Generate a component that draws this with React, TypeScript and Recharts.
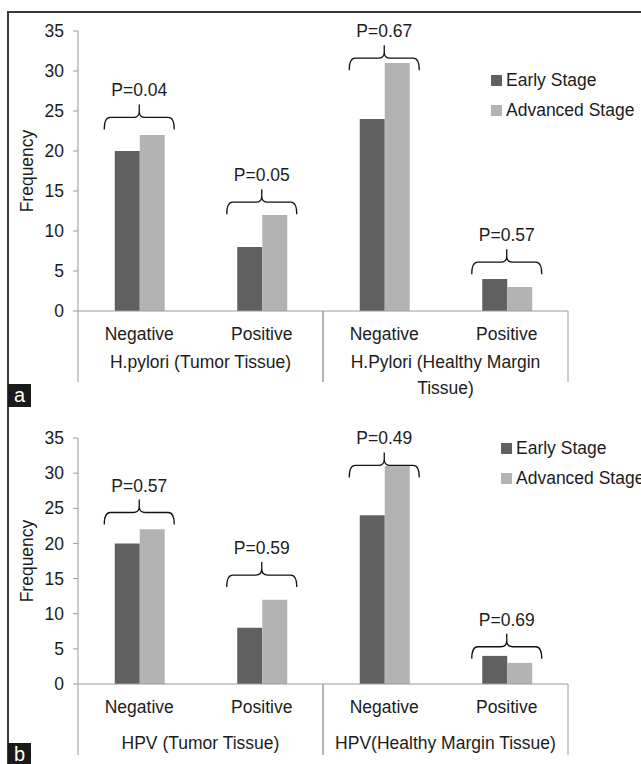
import { ComposedChart, Bar, Line, XAxis, YAxis, Legend } from 'recharts';

// ── values ─────────────────────────────────────────────────────────
const categories = ['Negative', 'Positive', 'Negative', 'Positive'];
const yTicks = [0, 5, 10, 15, 20, 25, 30, 35];
const seriesNames = ['Early Stage', 'Advanced Stage'];

// '\n' marks where the original label wraps
const groupsA = ['H.pylori (Tumor Tissue)', 'H.Pylori (Healthy Margin\nTissue)'];
const earlyA = [20, 8, 24, 4];
const advancedA = [22, 12, 31, 3];
const pValuesA = ['P=0.04', 'P=0.05', 'P=0.67', 'P=0.57'];
const bracketLevelA = [24.2, 13.6, 31.6, 6.1];

const groupsB = ['HPV (Tumor Tissue)', 'HPV(Healthy Margin Tissue)'];
const earlyB = [20, 8, 24, 4];
const advancedB = [22, 12, 31, 3];
const pValuesB = ['P=0.57', 'P=0.59', 'P=0.49', 'P=0.69'];
const bracketLevelB = [24.4, 15.5, 31.1, 5.3];

// ── styling ─────────────────────────────────────────────────────────
const DARK = '#606060';
const LIGHT = '#b3b3b3';
const AXIS = '#9a9a9a';
const INK = '#1c1c1c';
const FONT = '"Liberation Sans", Arial, sans-serif';
const FS = 17.5;

function buildRows(early: number[], adv: number[], levels: number[], ps: string[]) {
  return categories.map((c, i) => ({
    label: c,
    early: early[i],
    advanced: adv[i],
    bracket: levels[i],
    p: ps[i],
  }));
}

// multi-level category axis: sub label, group label and separators
function makeTick(groups: string[], groupDy: number, sepLen: number) {
  return (props: any) => {
    const { x, y, payload } = props;
    const i = payload.index;
    const half = payload.offset ?? 61.25;
    const lines = i % 2 === 0 ? groups[i / 2].split('\n') : [];
    return (
      <g>
        <text x={x} y={y + 29} textAnchor="middle" fontSize={FS} fill={INK} fontFamily={FONT}>
          {payload.value}
        </text>
        {i % 2 === 0 && (
          <>
            <line x1={x - half} x2={x - half} y1={y} y2={y + sepLen} stroke={AXIS} />
            <text x={x + half} y={y + groupDy} textAnchor="middle" fontSize={FS} fill={INK} fontFamily={FONT}>
              {lines.map((ln, k) => (
                <tspan key={k} x={x + half} dy={k === 0 ? 0 : 26}>{ln}</tspan>
              ))}
            </text>
          </>
        )}
        {i % 2 === 1 && (
          <line x1={x + half} x2={x + half} y1={y} y2={y + sepLen} stroke={AXIS} />
        )}
      </g>
    );
  };
}

// curly brace + p value drawn at each bracket point
function renderBracket(props: any) {
  const { cx, cy, index, payload } = props;
  if (cx == null || cy == null) return <g key={index} />;
  const hw = 35, drop = 12, rise = 13, r = 6;
  const d = [
    `M${cx - hw},${cy + drop}`,
    `Q${cx - hw},${cy} ${cx - hw + r},${cy}`,
    `L${cx - r},${cy}`,
    `Q${cx},${cy} ${cx},${cy - r}`,
    `L${cx},${cy - rise}`,
    `M${cx},${cy - r}`,
    `Q${cx},${cy} ${cx + r},${cy}`,
    `L${cx + hw - r},${cy}`,
    `Q${cx + hw},${cy} ${cx + hw},${cy + drop}`,
  ].join(' ');
  return (
    <g key={index}>
      <path d={d} fill="none" stroke="#111" strokeWidth={1.3} />
      <text x={cx} y={cy - rise - 8} textAnchor="middle" fontSize={FS} fill={INK} fontFamily={FONT}>
        {payload.p}
      </text>
    </g>
  );
}

function LegendBox(props: any) {
  const items = (props.payload || [])
    .filter((p: any) => seriesNames.includes(p.value))
    .sort((a: any, b: any) => seriesNames.indexOf(a.value) - seriesNames.indexOf(b.value));
  return (
    <div style={{ fontFamily: FONT, fontSize: FS, color: INK }}>
      {items.map((p: any) => (
        <div key={p.value} style={{ display: 'flex', alignItems: 'center', height: 30, whiteSpace: 'nowrap' }}>
          <span style={{ width: 11, height: 11, background: p.color, marginRight: 4, display: 'inline-block' }} />
          <span>{p.value}</span>
        </div>
      ))}
    </div>
  );
}

interface PanelProps {
  rows: ReturnType<typeof buildRows>;
  groups: string[];
  height: number;
  top: number;
  xAxisHeight: number;
  groupDy: number;
  legendPos: { left: number; top: number };
}

function Panel({ rows, groups, height, top, xAxisHeight, groupDy, legendPos }: PanelProps) {
  return (
    <ComposedChart
      width={641}
      height={height}
      data={rows}
      margin={{ top, right: 73, bottom: 0, left: 0 }}
      barCategoryGap="30%"
      barGap={0}
    >
      <XAxis
        dataKey="label"
        height={xAxisHeight}
        stroke={AXIS}
        tickLine={false}
        tickSize={0}
        tickMargin={0}
        interval={0}
        tick={makeTick(groups, groupDy, 71)}
      />
      <YAxis
        width={78}
        domain={[0, 35]}
        ticks={yTicks}
        stroke={AXIS}
        tickSize={5}
        tickMargin={9}
        tick={{ fontSize: FS, fill: INK, fontFamily: FONT }}
        label={{ value: 'Frequency', angle: -90, position: 'center', dx: -12, fontSize: FS, fill: INK, fontFamily: FONT }}
      />
      <Legend
        layout="vertical"
        align="center"
        verticalAlign="middle"
        wrapperStyle={{ left: legendPos.left, top: legendPos.top, width: 170 }}
        content={<LegendBox />}
      />
      <Bar dataKey="early" name={seriesNames[0]} fill={DARK} isAnimationActive={false} />
      <Bar dataKey="advanced" name={seriesNames[1]} fill={LIGHT} isAnimationActive={false} />
      <Line
        dataKey="bracket"
        stroke="none"
        legendType="none"
        dot={renderBracket}
        activeDot={false}
        isAnimationActive={false}
      />
    </ComposedChart>
  );
}

export default function App() {
  const rowsA = buildRows(earlyA, advancedA, bracketLevelA, pValuesA);
  const rowsB = buildRows(earlyB, advancedB, bracketLevelB, pValuesB);
  const tag: React.CSSProperties = {
    position: 'absolute', left: 8, width: 23, background: '#1a1a1a', color: '#fff',
    fontFamily: FONT, fontSize: 20, lineHeight: '23px', textAlign: 'center',
  };
  return (
    <div style={{ position: 'relative', width: 641, height: 764, overflow: 'hidden', background: '#fff', fontFamily: FONT }}>
      <style>{'body{margin:0}'}</style>
      <div style={{ position: 'absolute', left: 7, top: 11, width: 700, height: 800, borderLeft: '2px solid #3a3a3a', borderTop: '2px solid #3a3a3a' }} />
      <div style={{ position: 'absolute', left: 0, top: 0 }}>
        <Panel rows={rowsA} groups={groupsA} height={400} top={31} xAxisHeight={89} groupDy={57} legendPos={{ left: 491, top: 65 }} />
      </div>
      <div style={{ position: 'absolute', left: 0, top: 400 }}>
        <Panel rows={rowsB} groups={groupsB} height={364} top={38} xAxisHeight={80} groupDy={65} legendPos={{ left: 501, top: 33 }} />
      </div>
      <div style={{ ...tag, top: 384, height: 23 }}>a</div>
      <div style={{ ...tag, top: 743, height: 23 }}>b</div>
    </div>
  );
}
